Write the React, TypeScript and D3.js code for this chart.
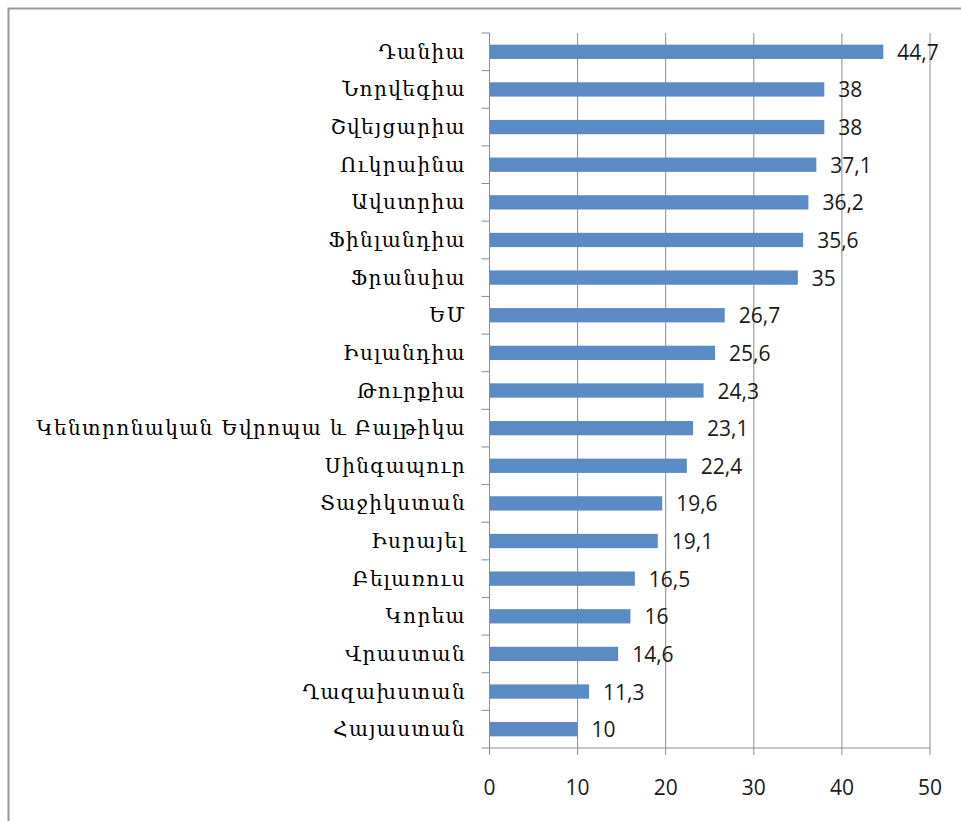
import React from "react";
import * as d3 from "d3";

const categories = [
  "Դանիա",
  "Նորվեգիա",
  "Շվեյցարիա",
  "Ուկրաինա",
  "Ավստրիա",
  "Ֆինլանդիա",
  "Ֆրանսիա",
  "ԵՄ",
  "Իսլանդիա",
  "Թուրքիա",
  "Կենտրոնական Եվրոպա և Բալթիկա",
  "Սինգապուր",
  "Տաջիկստան",
  "Իսրայել",
  "Բելառուս",
  "Կորեա",
  "Վրաստան",
  "Ղազախստան",
  "Հայաստան",
];
const values = [44.7, 38, 38, 37.1, 36.2, 35.6, 35, 26.7, 25.6, 24.3, 23.1, 22.4, 19.6, 19.1, 16.5, 16, 14.6, 11.3, 10];
const valueLabels = ["44,7", "38", "38", "37,1", "36,2", "35,6", "35", "26,7", "25,6", "24,3", "23,1", "22,4", "19,6", "19,1", "16,5", "16", "14,6", "11,3", "10"];
const xTicks = [0, 10, 20, 30, 40, 50];

export default function App() {
  const W = 961, H = 821;
  const left = 489.5, right = 930, top = 33, bottom = 748;
  const x = d3.scaleLinear().domain([0, 50]).range([left, right]);
  const y = d3.scaleBand<string>().domain(categories).range([top, bottom]).paddingInner(0.62).paddingOuter(0.31);
  const step = (bottom - top) / categories.length;
  const grid = "#8c8c8c";
  const labelFont = "'DejaVu Serif', 'DejaVu Sans', serif";
  const numFont = "'Open Sans', sans-serif";
  return (
    <svg width={W} height={H} style={{ position: "absolute", left: 0, top: 0 }}>
      <rect x={0} y={0} width={W} height={H} fill="#fff" />
      <rect x={8.5} y={8.5} width={W + 20} height={H + 20} fill="none" stroke="#999" strokeWidth={2} />
      {xTicks.slice(1).map((t) => (
        <line key={"g" + t} x1={x(t)} x2={x(t)} y1={top} y2={bottom} stroke={grid} strokeWidth={1} />
      ))}
      {values.map((v, i) => (
        <rect key={"b" + i} x={x(0)} y={y(categories[i])!} width={x(v) - x(0)} height={y.bandwidth()} fill="#5b8bc5" />
      ))}
      <line x1={left} x2={left} y1={top} y2={bottom} stroke={grid} />
      <line x1={left} x2={right} y1={bottom} y2={bottom} stroke={grid} />
      {d3.range(categories.length + 1).map((i) => (
        <line key={"yt" + i} x1={left - 8} x2={left} y1={top + i * step} y2={top + i * step} stroke={grid} />
      ))}
      {xTicks.map((t) => (
        <line key={"xt" + t} x1={x(t)} x2={x(t)} y1={bottom} y2={bottom + 7} stroke={grid} />
      ))}
      {xTicks.map((t) => (
        <text key={"xl" + t} x={x(t)} y={787} textAnchor="middle" dominantBaseline="central" fontFamily={numFont} fontSize={21} fill="#1a1a1a">
          {t}
        </text>
      ))}
      {categories.map((c, i) => (
        <text key={"c" + i} x={466} y={y(c)! + y.bandwidth() / 2} textAnchor="end" dominantBaseline="central" fontFamily={labelFont} fontSize={20} letterSpacing={1.4} fill="#000">
          {c}
        </text>
      ))}
      {values.map((v, i) => (
        <text key={"v" + i} x={x(v) + 14} y={y(categories[i])! + y.bandwidth() / 2} textAnchor="start" dominantBaseline="central" fontFamily={numFont} fontSize={21} fill="#1a1a1a">
          {valueLabels[i]}
        </text>
      ))}
    </svg>
  );
}
